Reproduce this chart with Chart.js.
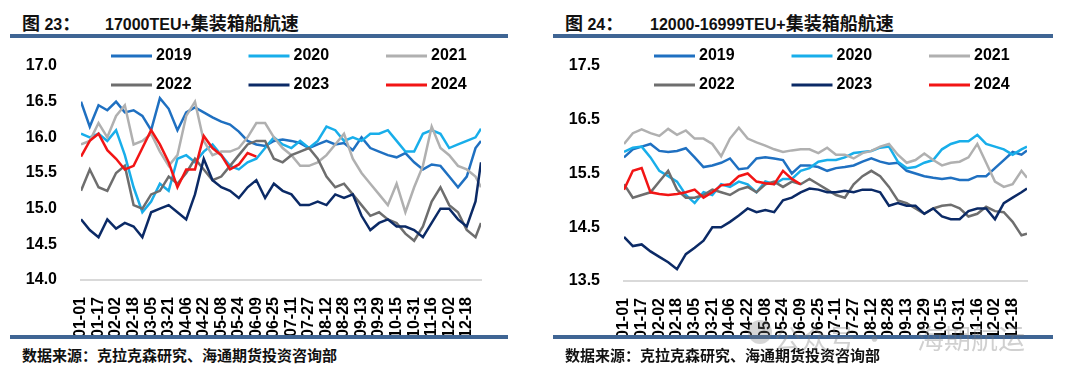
<!DOCTYPE html>
<html>
<head>
<meta charset="utf-8">
<title>集装箱船航速</title>
<script src="https://cdn.jsdelivr.net/npm/chart.js@4.4.1/dist/chart.umd.min.js"></script>
<style>
  body { margin: 0; width: 1080px; height: 377px; position: relative; overflow: hidden; background: #fff; }
  .title, .src, .mark { position: absolute; white-space: pre; line-height: 1; }
  .title { top: 9px; font: bold 18px "Noto Sans CJK SC", sans-serif; color: #111; }
  .title .num { font: bold 16px "Liberation Sans", "Noto Sans CJK SC", sans-serif; }
  .bar { position: absolute; height: 4px; background: #3F6594; }
  .src { top: 344px; font: bold 15px "Noto Sans CJK SC", sans-serif; color: #111; }
  canvas { position: absolute; top: 40px; }
  .mark { top: 318px; font: 27px "Noto Sans CJK SC", sans-serif; color: rgba(120, 120, 120, 0.35); z-index: 5; }
  .dot { position: absolute; left: 748px; top: 320px; width: 24px; height: 24px; border-radius: 50%; background: rgba(120, 120, 120, 0.3); z-index: 5; }
</style>
</head>
<body>

<div class="title" style="left:22px">图<span class="num"> 23</span>：</div>
<div class="title" style="left:105px"><span class="num">17000TEU+</span>集装箱船航速</div>
<div class="bar" style="left:10px; width:498px; top:34px"></div>
<canvas id="chart17k" width="498" height="295" style="left:10px"></canvas>
<div class="bar" style="left:10px; width:498px; top:335px"></div>
<div class="src" style="left:22px">数据来源：克拉克森研究、海通期货投资咨询部</div>

<div class="title" style="left:565px">图<span class="num"> 24</span>：</div>
<div class="title" style="left:650px"><span class="num">12000-16999TEU+</span>集装箱船航速</div>
<div class="bar" style="left:553px; width:500px; top:34px"></div>
<canvas id="chart12k" width="500" height="295" style="left:553px"></canvas>
<div class="bar" style="left:553px; width:500px; top:335px"></div>
<div class="src" style="left:565px">数据来源：克拉克森研究、海通期货投资咨询部</div>

<div class="dot"></div>
<div class="mark" style="left:774px">公众号 ·</div>
<div class="mark" style="left:917px">海期航运</div>

<script>
// sampled every 8 days through 2024 (leap year), last one is 12-31
const dates = ['01-01', '01-09', '01-17', '01-25', '02-02', '02-10', '02-18', '02-26',
    '03-05', '03-13', '03-21', '03-29', '04-06', '04-14', '04-22', '04-30',
    '05-08', '05-16', '05-24', '06-01', '06-09', '06-17', '06-25', '07-03',
    '07-11', '07-19', '07-27', '08-04', '08-12', '08-20', '08-28', '09-05',
    '09-13', '09-21', '09-29', '10-07', '10-15', '10-23', '10-31', '11-08',
    '11-16', '11-24', '12-02', '12-10', '12-18', '12-26', '12-31'];

const tickLabels = ['01-01', '01-17', '02-02', '02-18', '03-05', '03-21', '04-06', '04-22',
    '05-08', '05-24', '06-09', '06-25', '07-11', '07-27', '08-12', '08-28',
    '09-13', '09-29', '10-15', '10-31', '11-16', '12-02', '12-18'];

const years = ['2019', '2020', '2021', '2022', '2023', '2024'];
const colors = ['#1F70C1', '#18AEEA', '#B0B0B0', '#6E6E6E', '#0B2A66', '#F21515'];

// 17000TEU+ (knots)
const big2019 = [16.5, 16.15, 16.45, 16.38, 16.5, 16.35, 16.38, 16.3, 16.1, 16.55, 16.4, 16.1, 16.35, 16.42, 16.35, 16.28,
    16.22, 16.18, 16.08, 15.95, 15.9, 15.88, 15.95, 15.97, 15.95, 15.92, 15.85, 15.9, 15.95, 15.9, 15.92, 15.82,
    16.0, 15.85, 15.8, 15.75, 15.72, 15.78, 15.65, 15.55, 15.62, 15.6, 15.45, 15.3, 15.45, 15.85, 15.95];
const big2020 = [16.05, 16.0, 16.05, 15.95, 16.1, 15.75, 15.3, 14.95, 15.1, 15.35, 15.25, 15.7, 15.75, 15.65, 15.8, 15.9,
    15.75, 15.6, 15.55, 15.65, 15.7, 15.85, 16.0, 15.9, 15.85, 15.95, 15.85, 15.95, 16.15, 16.1, 15.95, 16.0,
    15.95, 16.05, 16.05, 16.1, 15.95, 15.8, 15.8, 16.05, 16.1, 16.05, 15.85, 15.9, 15.95, 16.0, 16.12];
const big2021 = [15.9, 15.95, 16.2, 16.0, 16.3, 16.45, 15.9, 15.95, 16.05, 15.8, 15.6, 15.75, 16.3, 16.5, 15.95, 15.75,
    15.8, 15.8, 15.85, 16.0, 16.2, 16.2, 16.0, 15.85, 15.75, 15.6, 15.6, 15.65, 15.75, 15.9, 16.05, 15.7,
    15.5, 15.35, 15.2, 15.05, 15.35, 14.95, 15.3, 15.6, 16.15, 15.85, 15.75, 15.6, 15.55, 15.45, 15.3];
const big2022 = [15.25, 15.55, 15.3, 15.25, 15.5, 15.6, 15.05, 15.0, 15.2, 15.25, 15.45, 15.35, 15.5, 15.7, 15.55, 15.4,
    15.45, 15.6, 15.75, 15.9, 15.95, 15.95, 15.7, 15.65, 15.75, 15.8, 15.85, 15.7, 15.45, 15.3, 15.35, 15.2,
    15.05, 14.9, 14.95, 14.85, 14.8, 14.65, 14.55, 14.75, 15.1, 15.3, 15.05, 14.95, 14.7, 14.6, 14.8];
const big2023 = [14.85, 14.7, 14.6, 14.85, 14.72, 14.8, 14.75, 14.6, 14.95, 15.0, 15.05, 14.95, 14.85, 15.2, 15.7, 15.4,
    15.3, 15.25, 15.15, 15.3, 15.4, 15.15, 15.35, 15.25, 15.2, 15.05, 15.05, 15.1, 15.05, 15.2, 15.15, 15.2,
    14.9, 14.7, 14.8, 14.85, 14.75, 14.75, 14.7, 14.6, 14.8, 15.0, 15.0, 14.85, 14.75, 15.1, 15.65];
const big2024 = [15.73, 15.95, 16.05, 15.82, 15.7, 15.55, 15.6, 15.85, 16.1, 15.9, 15.65, 15.3, 15.55, 15.55, 16.02, 15.85,
    15.75, 15.55, 15.62, 15.78, 15.73];

// 12000-16999TEU (knots)
const mid2019 = [15.8, 15.95, 16.0, 16.05, 15.92, 15.9, 15.92, 15.97, 15.8, 15.62, 15.65, 15.7, 15.78, 15.58, 15.6, 15.78,
    15.8, 15.78, 15.75, 15.5, 15.65, 15.65, 15.62, 15.55, 15.6, 15.62, 15.65, 15.72, 15.78, 15.72, 15.68, 15.7,
    15.55, 15.5, 15.45, 15.42, 15.4, 15.42, 15.38, 15.38, 15.45, 15.45, 15.6, 15.75, 15.9, 15.85, 15.93];
const mid2020 = [15.9, 15.98, 16.0, 15.8, 15.55, 15.45, 15.35, 15.1, 14.95, 15.15, 15.1, 15.3, 15.25, 15.35, 15.3, 15.15,
    15.35, 15.3, 15.4, 15.4, 15.55, 15.6, 15.72, 15.75, 15.75, 15.8, 15.88, 15.9, 15.92, 15.98, 16.0, 15.72,
    15.6, 15.62, 15.7, 15.75, 15.95, 16.05, 16.1, 16.1, 16.22, 16.05, 16.0, 15.95, 15.85, 15.95, 16.0];
const mid2021 = [16.05, 16.25, 16.32, 16.25, 16.2, 16.33, 16.22, 16.3, 16.15, 16.15, 16.05, 15.82, 16.15, 16.35, 16.15, 16.08,
    16.02, 15.95, 15.9, 15.93, 15.95, 15.95, 15.88, 15.98, 15.85, 15.85, 15.78, 15.88, 15.92, 16.0, 16.05, 15.85,
    15.7, 15.75, 15.87, 15.75, 15.65, 15.7, 15.72, 15.8, 16.05, 15.7, 15.35, 15.25, 15.3, 15.55, 15.42];
const mid2022 = [15.3, 15.05, 15.1, 15.15, 15.35, 15.55, 15.2, 15.05, 15.05, 15.1, 15.2, 15.15, 15.1, 15.2, 15.25, 15.15,
    15.3, 15.35, 15.25, 15.35, 15.3, 15.4, 15.3, 15.2, 15.1, 15.05, 15.3, 15.45, 15.55, 15.45, 15.25, 15.0,
    14.95, 14.85, 14.75, 14.85, 14.9, 14.92, 14.85, 14.7, 14.75, 14.88, 14.8, 14.78, 14.6, 14.35, 14.38];
const mid2023 = [14.32, 14.15, 14.18, 14.05, 13.95, 13.85, 13.72, 14.0, 14.12, 14.25, 14.5, 14.5, 14.6, 14.72, 14.85, 14.78,
    14.82, 14.78, 15.0, 15.05, 15.15, 15.22, 15.2, 15.15, 15.15, 15.18, 15.15, 15.2, 15.2, 15.15, 14.9, 14.95,
    14.9, 14.9, 14.75, 14.85, 14.7, 14.65, 14.65, 14.8, 14.85, 14.85, 14.65, 14.95, 15.05, 15.15, 15.22];
const mid2024 = [15.2, 15.55, 15.6, 15.15, 15.12, 15.1, 15.12, 15.15, 15.2, 15.05, 15.15, 15.28, 15.3, 15.45, 15.5, 15.35,
    15.32, 15.3, 15.55, 15.4, 15.3];

function dayOf(md) {
    const [m, d] = md.split('-').map(Number);
    return (Date.UTC(2024, m - 1, d) - Date.UTC(2024, 0, 1)) / 864e5;
}

// legend laid out as a 3 x 2 grid inside the plot area
const gridLegend = {
    id: 'gridLegend',
    afterDatasetsDraw(chart, args, opts) {
        const {ctx, chartArea} = chart;
        ctx.save();
        ctx.font = 'bold 16px "Liberation Sans", Arial, sans-serif';
        ctx.textBaseline = 'middle';
        chart.data.datasets.forEach((ds, i) => {
            const x = chartArea.left + opts.x + (i % 3) * opts.colGap;
            const y = chartArea.top + opts.y + Math.floor(i / 3) * opts.rowGap;
            ctx.strokeStyle = ds.borderColor;
            ctx.lineWidth = 3;
            ctx.beginPath();
            ctx.moveTo(x, y);
            ctx.lineTo(x + 41, y);
            ctx.stroke();
            ctx.fillStyle = '#000';
            ctx.fillText(ds.label, x + 45, y);
        });
        ctx.restore();
    }
};

Chart.defaults.font.family = '"Liberation Sans", Arial, sans-serif';

function makeChart(id, series, yMin, yMax, yStep, padTop, padRight, xHeight) {
    return new Chart(document.getElementById(id), {
        type: 'line',
        data: {
            datasets: series.map((vals, i) => ({
                label: years[i],
                data: vals.map((v, j) => ({x: dayOf(dates[j]), y: v})),
                borderColor: colors[i],
                backgroundColor: colors[i],
                borderWidth: 2.5,
                pointRadius: 0,
                tension: 0,
                fill: false,
                order: series.length - i,
            }))
        },
        plugins: [gridLegend],
        options: {
            responsive: false,
            animation: false,
            layout: {padding: {top: padTop, right: padRight, left: 0, bottom: 0}},
            plugins: {
                legend: {display: false},
                tooltip: {enabled: false},
                gridLegend: {x: 30, y: -10, colGap: 137.5, rowGap: 29},
            },
            scales: {
                x: {
                    type: 'linear',
                    min: 0,
                    max: 365,
                    afterBuildTicks: scale => {
                        scale.ticks = tickLabels.map(l => ({value: dayOf(l)}));
                    },
                    afterFit: scale => { scale.height = xHeight; },
                    grid: {display: false},
                    border: {color: '#D9D9D9', width: 2},
                    ticks: {
                        autoSkip: false,
                        minRotation: 90,
                        maxRotation: 90,
                        padding: 9,
                        color: '#000',
                        font: {size: 16, weight: 'bold'},
                        callback: (v, i) => tickLabels[i],
                    },
                },
                y: {
                    min: yMin,
                    max: yMax,
                    afterFit: scale => { scale.width = 71; },
                    // invisible tick marks keep the labels away from the plot
                    grid: {drawOnChartArea: false, tickLength: 24, color: 'rgba(0,0,0,0)'},
                    border: {display: false},
                    ticks: {
                        stepSize: yStep,
                        padding: 0,
                        color: '#000',
                        font: {size: 16, weight: 'bold'},
                        callback: v => v.toFixed(1),
                    },
                },
            },
        },
    });
}

makeChart('chart17k', [big2019, big2020, big2021, big2022, big2023, big2024], 14, 17, 0.5, 26, 27, 55);
makeChart('chart12k', [mid2019, mid2020, mid2021, mid2022, mid2023, mid2024], 13.5, 17.5, 1, 26, 26, 54);
</script>
</body>
</html>
